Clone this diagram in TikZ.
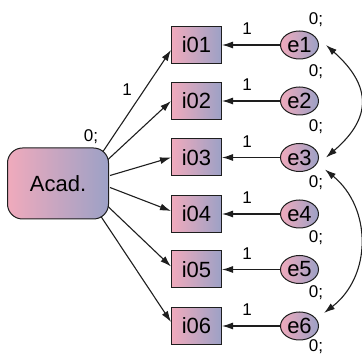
\documentclass[tikz,border=0pt]{standalone}
\usepackage{fontspec}
\setmainfont{Liberation Sans}
\usetikzlibrary{arrows.meta,calc,shapes.geometric}
\definecolor{pinkL}{RGB}{240,170,188}
\definecolor{blueR}{RGB}{156,161,198}
\definecolor{edge}{RGB}{30,30,30}
\tikzset{
  grad/.style={draw=edge,line width=1pt,left color=pinkL,right color=blueR,shading=axis,shading angle=90},
  latent/.style={grad,rounded corners=15pt,minimum width=101pt,minimum height=71pt,inner sep=0pt,font=\fontsize{22}{22}\selectfont},
  item/.style={grad,minimum width=50pt,minimum height=37pt,inner sep=0pt,font=\fontsize{22}{22}\selectfont},
  err/.style={grad,ellipse,minimum width=38pt,minimum height=28pt,inner sep=0pt,font=\fontsize{22}{22}\selectfont},
  lbl/.style={inner sep=0pt,font=\fontsize{17}{17}\selectfont},
  arr/.style={draw=edge,line width=1.1pt,-{Latex[length=11pt,width=7pt]}},
  darr/.style={draw=edge,line width=1.1pt,{Latex[length=11pt,width=7pt]}-{Latex[length=11pt,width=7pt]}}
}
\begin{document}
\begin{tikzpicture}[x=1pt,y=-1pt]
\useasboundingbox (0,0) rectangle (362,355);
\clip (0,0) rectangle (362,355);

% latent factor
\node[latent] (acad) at (58,183.5) {Acad.};
\node[lbl] (vacad) at (91,137) {0;};

% observed items and their error terms
\foreach \k/\y in {1/45,2/101,3/157.5,4/214,5/269.5,6/326}{
  \node[item] (i\k) at (196.5,\y) {i0\k};
  \node[err] (e\k) at (299.5,\y) {e\k};
  \draw[arr] (e\k.west) -- (i\k.east);
  \node[lbl] at (247,\y-16) {1};
}

% variance labels of the error terms
\foreach \k/\y in {1/20,2/72,3/127,4/183,5/238,6/293,7/347}{
  \node[lbl] (v\k) at (316,\y) {0;};
}

% loadings
\draw[arr] ($(acad.center)+(45,-32)$) -- ($(i1.west)+(0,5)$);
\node[lbl] (l1) at (127,90) {1};
\draw[arr] ($(acad.center)+(50,-24)$) -- (i2.west);
\draw[arr] ($(acad.center)+(52,-8)$) -- (i3.west);
\draw[arr] ($(acad.center)+(52,4)$) -- ($(i4.west)+(0,-3)$);
\draw[arr] ($(acad.center)+(50,23)$) -- ($(i5.west)+(0,-3)$);
\draw[arr] ($(acad.center)+(43,33)$) -- ($(i6.west)+(0,-4)$);

% error covariances
\draw[darr] ($(e1.east)+(7,0)$) .. controls (372,86) and (372,118) .. ($(e3.east)+(7,0)$);
\draw[darr] ($(e3.east)+(6,12)$) .. controls (372,208) and (372,276) .. ($(e6.east)+(5,-13)$);
\end{tikzpicture}
\end{document}
